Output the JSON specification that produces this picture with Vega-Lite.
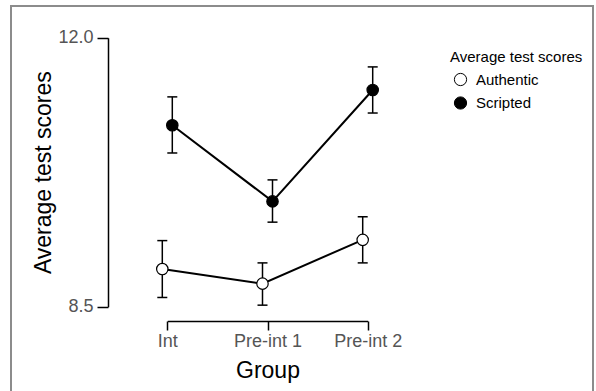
{
  "$schema": "https://vega.github.io/schema/vega-lite/v6.json",
  "width": 582,
  "height": 387,
  "autosize": {"type": "none"},
  "padding": {"left": 11, "top": 6, "right": 3, "bottom": -2},
  "background": "white",
  "config": {
    "font": "Liberation Sans",
    "view": {"stroke": "#8c8c8c", "strokeWidth": 2}
  },
  "data": {
    "values": [
      {"group": "Int", "cond": "Authentic", "mean": 8.99, "low": 8.62, "high": 9.36},
      {"group": "Pre-int 1", "cond": "Authentic", "mean": 8.8, "low": 8.52, "high": 9.07},
      {"group": "Pre-int 2", "cond": "Authentic", "mean": 9.37, "low": 9.07, "high": 9.67},
      {"group": "Int", "cond": "Scripted", "mean": 10.86, "low": 10.5, "high": 11.23},
      {"group": "Pre-int 1", "cond": "Scripted", "mean": 9.87, "low": 9.6, "high": 10.15},
      {"group": "Pre-int 2", "cond": "Scripted", "mean": 11.32, "low": 11.02, "high": 11.62}
    ]
  },
  "encoding": {
    "x": {
      "field": "group",
      "type": "ordinal",
      "sort": ["Int", "Pre-int 1", "Pre-int 2"],
      "scale": {"type": "point", "range": [156.3, 356.7], "padding": 0},
      "axis": {
        "title": "Group",
        "orient": "bottom",
        "offset": -72,
        "grid": false,
        "domainColor": "black",
        "domainWidth": 1.5,
        "tickColor": "black",
        "tickWidth": 1.5,
        "tickSize": 9,
        "labelAngle": 0,
        "labelFontSize": 18,
        "labelColor": "#555555",
        "labelPadding": 2,
        "titleFontSize": 23,
        "titleFontWeight": "normal",
        "titleColor": "black",
        "titlePadding": 9
      }
    },
    "xOffset": {
      "field": "cond",
      "type": "nominal",
      "scale": {"type": "point", "range": [-5, 5], "padding": 0}
    }
  },
  "layer": [
    {
      "mark": {"type": "rule", "color": "black", "strokeWidth": 1.5},
      "encoding": {
        "y": {
          "field": "low",
          "type": "quantitative",
          "scale": {"domain": [8.5, 12], "range": [300.7, 31.7], "nice": false, "zero": false},
          "axis": {
            "title": "Average test scores",
            "values": [8.5, 12],
            "format": ".1f",
            "offset": -97,
            "grid": false,
            "domainColor": "black",
            "domainWidth": 1.5,
            "tickColor": "black",
            "tickWidth": 1.5,
            "tickSize": 11,
            "labelFontSize": 18,
            "labelColor": "#555555",
            "labelPadding": 4,
            "titleFontSize": 23,
            "titleFontWeight": "normal",
            "titleColor": "black",
            "titlePadding": 2
          }
        },
        "y2": {"field": "high"}
      }
    },
    {
      "mark": {"type": "tick", "orient": "horizontal", "size": 10, "thickness": 1.5, "color": "black", "opacity": 1},
      "encoding": {"y": {"field": "low", "type": "quantitative", "axis": {"title": "Average test scores"}}}
    },
    {
      "mark": {"type": "tick", "orient": "horizontal", "size": 10, "thickness": 1.5, "color": "black", "opacity": 1},
      "encoding": {"y": {"field": "high", "type": "quantitative", "axis": {"title": "Average test scores"}}}
    },
    {
      "mark": {"type": "line", "color": "black", "strokeWidth": 2},
      "encoding": {
        "y": {"field": "mean", "type": "quantitative", "axis": {"title": "Average test scores"}},
        "detail": {"field": "cond", "type": "nominal"}
      }
    },
    {
      "mark": {"type": "point", "shape": "circle", "filled": true, "size": 130, "stroke": "black", "strokeWidth": 1.2, "opacity": 1},
      "encoding": {
        "y": {"field": "mean", "type": "quantitative", "axis": {"title": "Average test scores"}},
        "fill": {
          "field": "cond",
          "type": "nominal",
          "scale": {"domain": ["Authentic", "Scripted"], "range": ["white", "black"]},
          "legend": {
            "title": "Average test scores",
            "orient": "none",
            "legendX": 439,
            "legendY": 44,
            "titleFontSize": 15,
            "titleFontWeight": "normal",
            "titleColor": "black",
            "labelFontSize": 15,
            "labelColor": "black",
            "symbolType": "circle",
            "symbolSize": 150,
            "symbolStrokeColor": "black",
            "symbolStrokeWidth": 1,
            "rowPadding": 6.5,
            "titlePadding": 7,
            "labelOffset": 8,
            "symbolOffset": 3
          }
        }
      }
    }
  ]
}
